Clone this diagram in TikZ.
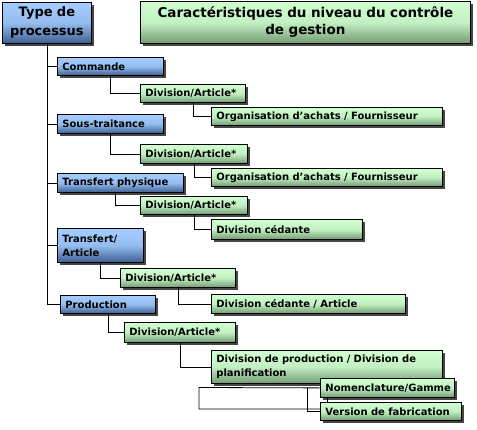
\documentclass[tikz,border=0pt]{standalone}
\usepackage{fontspec}
\setmainfont{DejaVu Sans}
\usetikzlibrary{shadows}
\definecolor{bluelight}{RGB}{165,205,255}
\definecolor{bluedark}{RGB}{60,95,145}
\definecolor{greenlight}{RGB}{208,255,208}
\definecolor{greendark}{RGB}{115,155,115}
\definecolor{shadowgray}{RGB}{70,70,70}
\tikzset{
  boxbase/.style={draw=black, line width=0.8pt, anchor=north west, inner xsep=5pt, inner ysep=0pt,
    align=left, font=\bfseries\fontsize{10}{14}\selectfont,
    drop shadow={shadow xshift=3pt, shadow yshift=-3pt, fill=shadowgray, opacity=1},
    shading angle=45},
  bluebox/.style={boxbase, top color=bluelight, bottom color=bluedark, middle color=bluelight!85!bluedark},
  greenbox/.style={boxbase, top color=greenlight, bottom color=greendark, middle color=greenlight!85!greendark},
  conn/.style={draw=black, line width=0.8pt},
}
\begin{document}
\begin{tikzpicture}[x=1pt, y=-1pt]
\useasboundingbox (0,0) rectangle (477,429);
% boxes
\node[bluebox, align=center, font=\bfseries\fontsize{13}{19}\selectfont, text width=79pt, minimum height=41pt] (type) at (2,2) {Type de\\processus};
\node[greenbox, align=center, font=\bfseries\fontsize{13.5}{17}\selectfont, text width=320pt, minimum height=42pt] (title) at (140,1) {Caractéristiques du niveau du contrôle\\de gestion};
\node[bluebox, text width=96pt, minimum height=18pt] (cmd) at (57,57) {Commande};
\node[greenbox, text width=95pt, minimum height=18pt] (d1) at (140,84) {Division/Article*};
\node[greenbox, text width=221pt, minimum height=18pt] (o1) at (211,107) {Organisation d'achats / Fournisseur};
\node[bluebox, text width=96pt, minimum height=19pt] (st) at (57,114) {Sous-traitance};
\node[greenbox, text width=97pt, minimum height=19pt] (d2) at (140,144) {Division/Article*};
\node[greenbox, text width=221pt, minimum height=18pt] (o2) at (211,168) {Organisation d'achats / Fournisseur};
\node[bluebox, text width=116pt, minimum height=19pt] (tp) at (57,173) {Transfert physique};
\node[greenbox, text width=97pt, minimum height=18pt] (d3) at (140,196) {Division/Article*};
\node[greenbox, text width=141pt, minimum height=20pt] (dc) at (211,219) {Division cédante};
\node[bluebox, text width=76pt, minimum height=34pt] (ta) at (57,228) {Transfert/\\Article};
\node[greenbox, text width=105pt, minimum height=19pt] (d4) at (120,268) {Division/Article*};
\node[greenbox, text width=184pt, minimum height=19pt] (dca) at (211,294) {Division cédante / Article};
\node[bluebox, text width=85pt, minimum height=18pt] (prod) at (60,295) {Production};
\node[greenbox, text width=101pt, minimum height=20pt] (d5) at (124,322) {Division/Article*};
\node[greenbox, text width=221pt, minimum height=33pt] (dp) at (211,350) {Division de production / Division de\\planification};
\node[greenbox, text width=124pt, minimum height=19pt] (nom) at (320,378) {Nomenclature/Gamme};
\node[greenbox, text width=131pt, minimum height=18pt] (ver) at (320,402) {Version de fabrication};
% bottom loop connectors
\coordinate (la) at (199,387.5);
\coordinate (lb) at (199,409);
\coordinate (lc) at (307,387.5);
\coordinate (ld) at (320,409);
\coordinate (le) at (327,397);
\coordinate (lf) at (327,402);
\path[conn] (nom.west) -- (la) -- (lb) -- (ld);
\path[conn] (lc) |- (ver.west);
\path[conn] (le) -- (lf);
% tree connectors
\path[conn] (type.south) |- (cmd.west);
\path[conn] (type.south) |- (st.west);
\path[conn] (type.south) |- (tp.west);
\path[conn] (type.south) |- (ta.west);
\path[conn] (type.south) |- (prod.west);
\path[conn] (cmd.south) |- (d1.west);
\path[conn] (d1.south) |- (o1.west);
\path[conn] (st.south) |- (d2.west);
\path[conn] (d2.south) |- (o2.west);
\path[conn] ([xshift=-5pt]tp.south) |- (d3.west);
\path[conn] (d3.south) |- (dc.west);
\path[conn] (ta.south) |- (d4.west);
\path[conn] (d4.south) |- (dca.west);
\path[conn] (prod.south) |- (d5.west);
\path[conn] (d5.south) |- (dp.west);
\end{tikzpicture}
\end{document}
